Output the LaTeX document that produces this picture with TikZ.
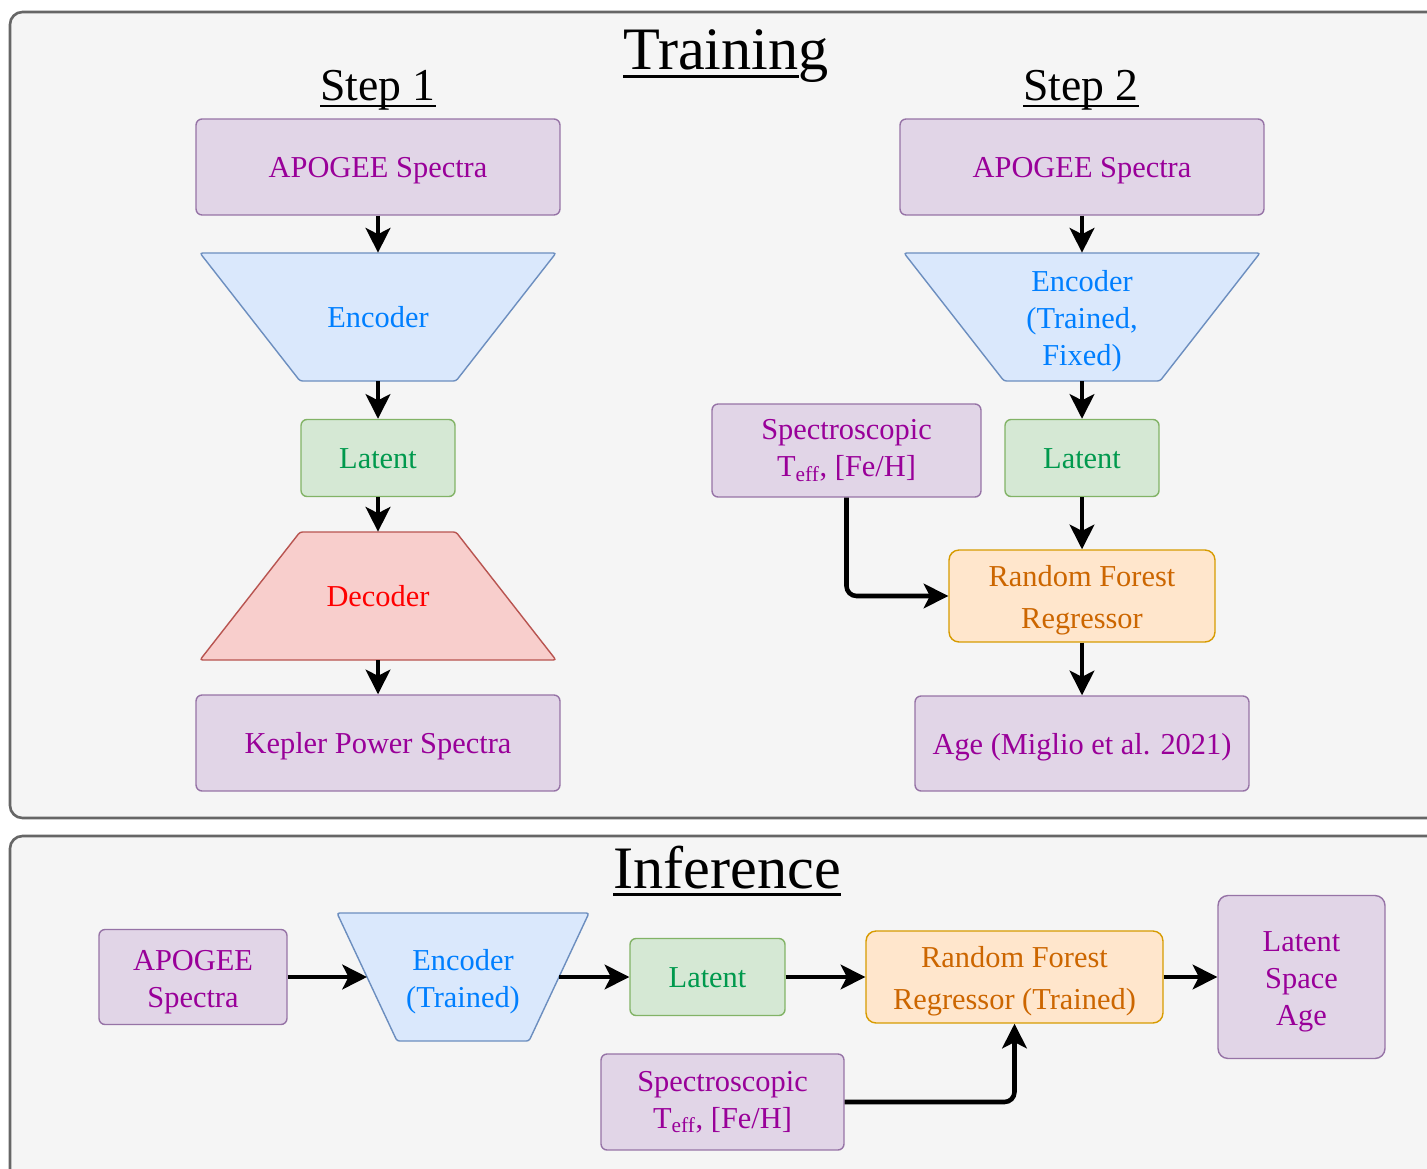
\documentclass[tikz,border=0pt]{standalone}
\usepackage{fontspec}
\setmainfont{Liberation Serif}
\usetikzlibrary{arrows.meta}

\definecolor{panelFill}{HTML}{F5F5F5}
\definecolor{panelLine}{HTML}{666666}
\definecolor{purFill}{HTML}{E1D5E7}
\definecolor{purLine}{HTML}{9673A6}
\definecolor{purText}{HTML}{990099}
\definecolor{bluFill}{HTML}{DAE8FC}
\definecolor{bluLine}{HTML}{6C8EBF}
\definecolor{bluText}{HTML}{007FFF}
\definecolor{grnFill}{HTML}{D5E8D4}
\definecolor{grnLine}{HTML}{82B366}
\definecolor{grnText}{HTML}{00994D}
\definecolor{redFill}{HTML}{F8CECC}
\definecolor{redLine}{HTML}{B85450}
\definecolor{redText}{HTML}{FF0000}
\definecolor{orgFill}{HTML}{FFE6CC}
\definecolor{orgLine}{HTML}{D79B00}
\definecolor{orgText}{HTML}{CC6600}

% underlined title, second part left without the rule
\newcommand{\titleul}[2]{\setbox0=\hbox{#1}\copy0\kern-\wd0\rule[-0.14em]{\wd0}{0.055em}#2}
% fixed line height so text sits like in the drawing
\newcommand{\tstrut}{\rule[-5pt]{0pt}{22pt}}

\tikzset{
    every node/.style={font=\fontsize{17.3}{21}\selectfont, align=center},
    panel/.style={draw=panelLine, fill=panelFill, line width=1.5pt, rounded corners=0.25cm},
    bigtitle/.style={font=\fontsize{34.3}{40}\selectfont, inner sep=0pt, anchor=base},
    steptitle/.style={font=\fontsize{26}{30}\selectfont, inner sep=0pt, anchor=base},
    purbox/.style={draw=purLine, fill=purFill, text=purText, line width=0.8pt, rounded corners=0.12cm},
    grnbox/.style={draw=grnLine, fill=grnFill, text=grnText, line width=0.8pt, rounded corners=0.12cm,
        minimum width=3.08cm, minimum height=1.54cm},
    orgbox/.style={draw=orgLine, fill=orgFill, text=orgText, line width=0.8pt, rounded corners=0.2cm,
        font=\fontsize{17.3}{24}\selectfont},
    encfill/.style={draw=bluLine, fill=bluFill, line width=0.8pt, rounded corners=0.05cm},
    decfill/.style={draw=redLine, fill=redFill, line width=0.8pt, rounded corners=0.05cm},
    arr/.style={-{Stealth[length=14pt,width=14pt,inset=3.5pt]}, line width=2.6pt},
}

\begin{document}
\begin{tikzpicture}[x=0.02cm, y=-0.02cm]
    \useasboundingbox[fill=white] (0,0) rectangle (1427,1169);

    % panels
    \draw[panel] (10,12) rectangle (1470,818);
    \draw[panel] (10,836) rectangle (1470,1210);

    % titles
    \node[bigtitle] (train) at (726,70) {\titleul{Trainin}{g}};
    \node[steptitle] (stepA) at (378,101) {\titleul{Step 1}{}};
    \node[steptitle] (stepB) at (1081,101) {\titleul{Step 2}{}};
    \node[bigtitle] (infer) at (727,888) {\titleul{Inference}{}};

    % trapezoids
    \draw[encfill] (200,253) -- (556,253) -- (456,381) -- (300,381) -- cycle;
    \draw[decfill] (300,532) -- (456,532) -- (556,660) -- (200,660) -- cycle;
    \draw[encfill] (904,253) -- (1260,253) -- (1160,381) -- (1004,381) -- cycle;
    \draw[encfill] (337,913) -- (589,913) -- (529,1041) -- (397,1041) -- cycle;

    % step 1
    \node[purbox, minimum width=7.28cm, minimum height=1.92cm] (apoA) at (378,167) {\tstrut APOGEE Spectra};
    \node[text=bluText, minimum width=7.12cm, minimum height=2.56cm] (encA) at (378,317) {\tstrut Encoder};
    \node[grnbox] (latA) at (378,458) {\tstrut Latent};
    \node[text=redText, minimum width=7.12cm, minimum height=2.56cm] (decA) at (378,596) {\tstrut Decoder};
    \node[purbox, minimum width=7.28cm, minimum height=1.92cm] (kepA) at (378,743) {\tstrut Kepler Power Spectra};
    \draw[arr] (apoA.south) -- (encA.north);
    \draw[arr] (encA.south) -- (latA.north);
    \draw[arr] (latA.south) -- (decA.north);
    \draw[arr] (decA.south) -- (kepA.north);

    % step 2
    \node[purbox, minimum width=7.28cm, minimum height=1.92cm] (apoB) at (1082,167) {\tstrut APOGEE Spectra};
    \node[text=bluText, minimum width=7.12cm, minimum height=2.56cm] (encB) at (1082,317) {\tstrut Encoder\\(Trained,\\Fixed)};
    \node[grnbox] (latB) at (1082,458) {\tstrut Latent};
    \node[purbox, minimum width=5.38cm, minimum height=1.86cm] (specB) at (846.5,450.5) {Spectroscopic\\T\textsubscript{eff}, [Fe/H]};
    \node[orgbox, minimum width=5.32cm, minimum height=1.84cm] (rfB) at (1082,596) {\tstrut Random Forest\\Regressor};
    \node[purbox, minimum width=6.68cm, minimum height=1.9cm] (ageB) at (1082,743.5) {\tstrut Age (Miglio et al. 2021)};
    \draw[arr] (apoB.south) -- (encB.north);
    \draw[arr] (encB.south) -- (latB.north);
    \draw[arr] (latB.south) -- (rfB.north);
    \draw[arr, rounded corners=0.2cm] (specB.south) |- (rfB.west);
    \draw[arr] (rfB.south) -- (ageB.north);

    % inference
    \node[purbox, minimum width=3.76cm, minimum height=1.9cm] (apoC) at (193,977) {\tstrut APOGEE\\Spectra};
    \node[text=bluText, minimum width=5.04cm, minimum height=2.56cm] (encC) at (463,977) {\tstrut Encoder\\(Trained)};
    \coordinate (encCin) at (367,977);
    \coordinate (encCout) at (559,977);
    \node[grnbox, minimum width=3.1cm] (latC) at (707.5,977) {\tstrut Latent};
    \node[orgbox, minimum width=5.94cm, minimum height=1.84cm] (rfC) at (1014.5,977) {\tstrut Random Forest\\Regressor (Trained)};
    \node[purbox, rounded corners=0.2cm, minimum width=3.34cm, minimum height=3.26cm] (lsaC) at (1301.5,977) {\tstrut Latent\\Space\\Age};
    \node[purbox, minimum width=4.86cm, minimum height=1.92cm] (specC) at (722.5,1102) {Spectroscopic\\T\textsubscript{eff}, [Fe/H]};
    \draw[arr] (apoC) -- (encCin);
    \draw[arr] (encCout) -- (latC);
    \draw[arr] (latC) -- (rfC);
    \draw[arr] (rfC) -- (lsaC);
    \draw[arr, rounded corners=0.2cm] (specC) -| (rfC);
\end{tikzpicture}
\end{document}
